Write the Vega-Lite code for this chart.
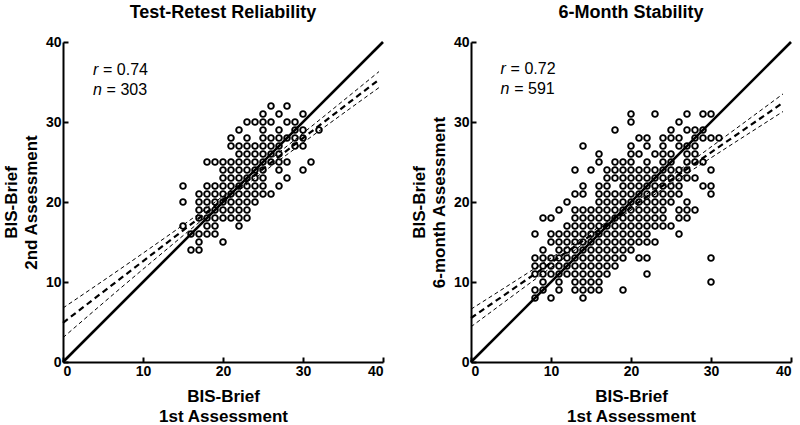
{
  "$schema": "https://vega.github.io/schema/vega-lite/v6.json",
  "padding": {"left": 2, "top": 4, "right": 5, "bottom": 0},
  "config": {
    "view": {"stroke": null},
    "font": "Liberation Sans",
    "concat": {"spacing": 21},
    "axis": {
      "grid": false,
      "domainColor": "black", "domainWidth": 2,
      "tickColor": "black", "tickWidth": 2, "tickSize": -5,
      "labelFont": "Liberation Sans", "labelFontWeight": "bold", "labelFontSize": 14, "labelColor": "black",
      "labelPadding": 7,
      "titleFont": "Liberation Sans", "titleFontWeight": "bold", "titleFontSize": 17, "titleColor": "black",
      "titleLineHeight": 20
    },
    "title": {"font": "Liberation Sans", "fontSize": 18, "fontWeight": "bold", "color": "black", "anchor": "middle", "frame": "group", "offset": 13}
  },
  "datasets": {
    "pts1": [
      {"x":26,"y":32},{"x":28,"y":32},
      {"x":25,"y":31},{"x":27,"y":31},{"x":30,"y":31},
      {"x":23,"y":30},{"x":24,"y":30},{"x":25,"y":30},{"x":26,"y":30},{"x":28,"y":30},{"x":29,"y":30},
      {"x":22,"y":29},{"x":25,"y":29},{"x":27,"y":29},{"x":29,"y":29},{"x":30,"y":29},{"x":32,"y":29},
      {"x":21,"y":28},{"x":23,"y":28},{"x":25,"y":28},{"x":26,"y":28},{"x":27,"y":28},{"x":28,"y":28},{"x":29,"y":28},{"x":30,"y":28},
      {"x":21,"y":27},{"x":22,"y":27},{"x":23,"y":27},{"x":24,"y":27},{"x":25,"y":27},{"x":26,"y":27},{"x":27,"y":27},{"x":29,"y":27},{"x":30,"y":27},
      {"x":22,"y":26},{"x":23,"y":26},{"x":24,"y":26},{"x":25,"y":26},{"x":26,"y":26},{"x":27,"y":26},
      {"x":18,"y":25},{"x":19,"y":25},{"x":20,"y":25},{"x":21,"y":25},{"x":22,"y":25},{"x":23,"y":25},{"x":24,"y":25},{"x":25,"y":25},{"x":26,"y":25},{"x":27,"y":25},{"x":28,"y":25},{"x":31,"y":25},
      {"x":20,"y":24},{"x":21,"y":24},{"x":22,"y":24},{"x":23,"y":24},{"x":24,"y":24},{"x":25,"y":24},{"x":27,"y":24},{"x":30,"y":24},
      {"x":20,"y":23},{"x":21,"y":23},{"x":22,"y":23},{"x":23,"y":23},{"x":24,"y":23},{"x":25,"y":23},{"x":28,"y":23},
      {"x":15,"y":22},{"x":18,"y":22},{"x":19,"y":22},{"x":20,"y":22},{"x":21,"y":22},{"x":22,"y":22},{"x":23,"y":22},{"x":24,"y":22},{"x":25,"y":22},{"x":27,"y":22},
      {"x":17,"y":21},{"x":18,"y":21},{"x":19,"y":21},{"x":20,"y":21},{"x":21,"y":21},{"x":22,"y":21},{"x":23,"y":21},{"x":24,"y":21},{"x":25,"y":21},{"x":26,"y":21},
      {"x":15,"y":20},{"x":17,"y":20},{"x":18,"y":20},{"x":19,"y":20},{"x":20,"y":20},{"x":21,"y":20},{"x":22,"y":20},{"x":23,"y":20},{"x":24,"y":20},
      {"x":17,"y":19},{"x":18,"y":19},{"x":19,"y":19},{"x":20,"y":19},{"x":21,"y":19},{"x":22,"y":19},{"x":23,"y":19},
      {"x":17,"y":18},{"x":18,"y":18},{"x":19,"y":18},{"x":20,"y":18},{"x":21,"y":18},{"x":22,"y":18},{"x":23,"y":18},
      {"x":15,"y":17},{"x":18,"y":17},{"x":19,"y":17},{"x":22,"y":17},
      {"x":16,"y":16},{"x":17,"y":16},{"x":18,"y":16},{"x":19,"y":16},
      {"x":17,"y":15},{"x":20,"y":15},
      {"x":16,"y":14},{"x":17,"y":14}
    ],
    "pts2": [
      {"x":20,"y":31},{"x":23,"y":31},{"x":27,"y":31},{"x":29,"y":31},{"x":30,"y":31},
      {"x":20,"y":30},{"x":26,"y":30},
      {"x":18,"y":29},{"x":25,"y":29},{"x":27,"y":29},{"x":28,"y":29},{"x":29,"y":29},
      {"x":21,"y":28},{"x":22,"y":28},{"x":24,"y":28},{"x":25,"y":28},{"x":26,"y":28},{"x":28,"y":28},{"x":29,"y":28},{"x":30,"y":28},{"x":31,"y":28},
      {"x":14,"y":27},{"x":20,"y":27},{"x":22,"y":27},{"x":24,"y":27},{"x":26,"y":27},{"x":27,"y":27},{"x":28,"y":27},
      {"x":16,"y":26},{"x":20,"y":26},{"x":21,"y":26},{"x":23,"y":26},{"x":24,"y":26},{"x":25,"y":26},{"x":27,"y":26},{"x":28,"y":26},
      {"x":16,"y":25},{"x":18,"y":25},{"x":19,"y":25},{"x":20,"y":25},{"x":22,"y":25},{"x":24,"y":25},{"x":25,"y":25},{"x":27,"y":25},{"x":28,"y":25},{"x":29,"y":25},
      {"x":13,"y":24},{"x":15,"y":24},{"x":17,"y":24},{"x":18,"y":24},{"x":19,"y":24},{"x":20,"y":24},{"x":21,"y":24},{"x":22,"y":24},{"x":23,"y":24},{"x":24,"y":24},{"x":25,"y":24},{"x":26,"y":24},{"x":27,"y":24},{"x":30,"y":24},
      {"x":17,"y":23},{"x":18,"y":23},{"x":19,"y":23},{"x":20,"y":23},{"x":21,"y":23},{"x":22,"y":23},{"x":23,"y":23},{"x":24,"y":23},{"x":25,"y":23},{"x":26,"y":23},{"x":27,"y":23},{"x":28,"y":23},
      {"x":14,"y":22},{"x":16,"y":22},{"x":17,"y":22},{"x":19,"y":22},{"x":20,"y":22},{"x":21,"y":22},{"x":22,"y":22},{"x":23,"y":22},{"x":24,"y":22},{"x":25,"y":22},{"x":26,"y":22},{"x":29,"y":22},{"x":30,"y":22},
      {"x":13,"y":21},{"x":14,"y":21},{"x":16,"y":21},{"x":17,"y":21},{"x":18,"y":21},{"x":19,"y":21},{"x":20,"y":21},{"x":21,"y":21},{"x":22,"y":21},{"x":23,"y":21},{"x":24,"y":21},{"x":25,"y":21},{"x":26,"y":21},{"x":30,"y":21},
      {"x":12,"y":20},{"x":16,"y":20},{"x":17,"y":20},{"x":18,"y":20},{"x":19,"y":20},{"x":20,"y":20},{"x":21,"y":20},{"x":22,"y":20},{"x":23,"y":20},{"x":24,"y":20},{"x":25,"y":20},{"x":27,"y":20},
      {"x":11,"y":19},{"x":13,"y":19},{"x":14,"y":19},{"x":15,"y":19},{"x":16,"y":19},{"x":17,"y":19},{"x":18,"y":19},{"x":19,"y":19},{"x":20,"y":19},{"x":21,"y":19},{"x":22,"y":19},{"x":23,"y":19},{"x":24,"y":19},{"x":26,"y":19},{"x":27,"y":19},{"x":28,"y":19},
      {"x":9,"y":18},{"x":10,"y":18},{"x":13,"y":18},{"x":14,"y":18},{"x":15,"y":18},{"x":16,"y":18},{"x":17,"y":18},{"x":18,"y":18},{"x":19,"y":18},{"x":20,"y":18},{"x":21,"y":18},{"x":22,"y":18},{"x":23,"y":18},{"x":24,"y":18},{"x":26,"y":18},{"x":27,"y":18},
      {"x":12,"y":17},{"x":13,"y":17},{"x":14,"y":17},{"x":15,"y":17},{"x":16,"y":17},{"x":17,"y":17},{"x":18,"y":17},{"x":19,"y":17},{"x":20,"y":17},{"x":21,"y":17},{"x":22,"y":17},{"x":23,"y":17},{"x":24,"y":17},{"x":25,"y":17},
      {"x":8,"y":16},{"x":10,"y":16},{"x":11,"y":16},{"x":12,"y":16},{"x":13,"y":16},{"x":14,"y":16},{"x":15,"y":16},{"x":16,"y":16},{"x":17,"y":16},{"x":18,"y":16},{"x":19,"y":16},{"x":20,"y":16},{"x":21,"y":16},{"x":22,"y":16},{"x":26,"y":16},
      {"x":10,"y":15},{"x":11,"y":15},{"x":12,"y":15},{"x":13,"y":15},{"x":14,"y":15},{"x":15,"y":15},{"x":16,"y":15},{"x":17,"y":15},{"x":18,"y":15},{"x":19,"y":15},{"x":20,"y":15},{"x":21,"y":15},{"x":22,"y":15},{"x":23,"y":15},
      {"x":9,"y":14},{"x":11,"y":14},{"x":12,"y":14},{"x":13,"y":14},{"x":14,"y":14},{"x":15,"y":14},{"x":16,"y":14},{"x":17,"y":14},{"x":18,"y":14},{"x":19,"y":14},{"x":20,"y":14},
      {"x":8,"y":13},{"x":9,"y":13},{"x":10,"y":13},{"x":11,"y":13},{"x":12,"y":13},{"x":13,"y":13},{"x":14,"y":13},{"x":15,"y":13},{"x":16,"y":13},{"x":17,"y":13},{"x":18,"y":13},{"x":19,"y":13},{"x":21,"y":13},{"x":22,"y":13},{"x":30,"y":13},
      {"x":8,"y":12},{"x":9,"y":12},{"x":10,"y":12},{"x":11,"y":12},{"x":12,"y":12},{"x":13,"y":12},{"x":14,"y":12},{"x":15,"y":12},{"x":16,"y":12},{"x":17,"y":12},{"x":18,"y":12},
      {"x":8,"y":11},{"x":9,"y":11},{"x":10,"y":11},{"x":11,"y":11},{"x":12,"y":11},{"x":13,"y":11},{"x":14,"y":11},{"x":15,"y":11},{"x":16,"y":11},{"x":17,"y":11},{"x":22,"y":11},
      {"x":9,"y":10},{"x":11,"y":10},{"x":13,"y":10},{"x":14,"y":10},{"x":15,"y":10},{"x":16,"y":10},{"x":30,"y":10},
      {"x":8,"y":9},{"x":9,"y":9},{"x":11,"y":9},{"x":13,"y":9},{"x":14,"y":9},{"x":15,"y":9},{"x":16,"y":9},{"x":19,"y":9},
      {"x":8,"y":8},{"x":10,"y":8},{"x":14,"y":8}
    ],
    "lines1": [
      {"kind":"identity","s":"i","x":0,"y":0},{"kind":"identity","s":"i","x":40,"y":40},
      {"kind":"fit","s":"f","x":0,"y":4.9},{"kind":"fit","s":"f","x":39.5,"y":35.3},
      {"kind":"ci","s":"u","x":0,"y":6.75},{"kind":"ci","s":"u","x":10,"y":13.6},{"kind":"ci","s":"u","x":22,"y":22.24},{"kind":"ci","s":"u","x":30,"y":28.6},{"kind":"ci","s":"u","x":39.5,"y":36.3},
      {"kind":"ci","s":"l","x":0,"y":3.05},{"kind":"ci","s":"l","x":10,"y":11.6},{"kind":"ci","s":"l","x":22,"y":21.44},{"kind":"ci","s":"l","x":30,"y":27.4},{"kind":"ci","s":"l","x":39.5,"y":34.3}
    ],
    "lines2": [
      {"kind":"identity","s":"i","x":0,"y":0},{"kind":"identity","s":"i","x":40,"y":40},
      {"kind":"fit","s":"f","x":0,"y":5.5},{"kind":"fit","s":"f","x":39,"y":32.41},
      {"kind":"ci","s":"u","x":0,"y":6.6},{"kind":"ci","s":"u","x":10,"y":13.0},{"kind":"ci","s":"u","x":18,"y":18.22},{"kind":"ci","s":"u","x":28,"y":25.42},{"kind":"ci","s":"u","x":39,"y":33.51},
      {"kind":"ci","s":"l","x":0,"y":4.4},{"kind":"ci","s":"l","x":10,"y":11.8},{"kind":"ci","s":"l","x":18,"y":17.62},{"kind":"ci","s":"l","x":28,"y":24.22},{"kind":"ci","s":"l","x":39,"y":31.31}
    ],
    "txt1": [
      {"x":3.75,"y":35.9,"t":"r","it":"italic"},{"x":5.0,"y":35.9,"t":"= 0.74","it":"normal"},
      {"x":3.75,"y":33.4,"t":"n","it":"italic"},{"x":5.45,"y":33.4,"t":"= 303","it":"normal"}
    ],
    "txt2": [
      {"x":3.7,"y":36.0,"t":"r","it":"italic"},{"x":4.95,"y":36.0,"t":"= 0.72","it":"normal"},
      {"x":3.7,"y":33.5,"t":"n","it":"italic"},{"x":5.4,"y":33.5,"t":"= 591","it":"normal"}
    ]
  },
  "hconcat": [
    {
      "width": 320, "height": 320,
      "title": {"text": "Test-Retest Reliability"},
      "layer": [
        {
          "data": {"name": "pts1"},
          "mark": {"type": "point", "shape": "circle", "filled": false, "color": "black", "size": 32, "strokeWidth": 1.9, "opacity": 1},
          "encoding": {
            "x": {"field": "x", "type": "quantitative", "scale": {"domain": [0, 40], "nice": false}, "axis": {"values": [0,10,20,30,40], "title": ["BIS-Brief", "1st Assessment"], "titlePadding": 10}},
            "y": {"field": "y", "type": "quantitative", "scale": {"domain": [0, 40], "nice": false}, "axis": {"values": [0,10,20,30,40], "title": ["BIS-Brief", "2nd Assessment"], "titlePadding": 5}}
          }
        },
        {
          "data": {"name": "lines1"}, "transform": [{"filter": "datum.kind == 'identity'"}],
          "mark": {"type": "line", "color": "black", "strokeWidth": 2.6},
          "encoding": {"x": {"field": "x", "type": "quantitative"}, "y": {"field": "y", "type": "quantitative"}}
        },
        {
          "data": {"name": "lines1"}, "transform": [{"filter": "datum.kind == 'fit'"}],
          "mark": {"type": "line", "color": "black", "strokeWidth": 2.2, "strokeDash": [6, 4]},
          "encoding": {"x": {"field": "x", "type": "quantitative"}, "y": {"field": "y", "type": "quantitative"}}
        },
        {
          "data": {"name": "lines1"}, "transform": [{"filter": "datum.kind == 'ci'"}],
          "mark": {"type": "line", "color": "black", "strokeWidth": 1, "strokeDash": [4, 3], "interpolate": "monotone"},
          "encoding": {"x": {"field": "x", "type": "quantitative"}, "y": {"field": "y", "type": "quantitative"}, "detail": {"field": "s"}}
        },
        {
          "data": {"name": "txt1"}, "transform": [{"filter": "datum.it == 'italic'"}],
          "mark": {"type": "text", "align": "left", "baseline": "alphabetic", "fontSize": 16, "font": "Liberation Sans", "fontStyle": "italic", "color": "black"},
          "encoding": {"x": {"field": "x", "type": "quantitative"}, "y": {"field": "y", "type": "quantitative"}, "text": {"field": "t"}}
        },
        {
          "data": {"name": "txt1"}, "transform": [{"filter": "datum.it == 'normal'"}],
          "mark": {"type": "text", "align": "left", "baseline": "alphabetic", "fontSize": 16, "font": "Liberation Sans", "color": "black"},
          "encoding": {"x": {"field": "x", "type": "quantitative"}, "y": {"field": "y", "type": "quantitative"}, "text": {"field": "t"}}
        }
      ]
    },
    {
      "width": 320, "height": 320,
      "title": {"text": "6-Month Stability"},
      "layer": [
        {
          "data": {"name": "pts2"},
          "mark": {"type": "point", "shape": "circle", "filled": false, "color": "black", "size": 32, "strokeWidth": 1.9, "opacity": 1},
          "encoding": {
            "x": {"field": "x", "type": "quantitative", "scale": {"domain": [0, 40], "nice": false}, "axis": {"values": [0,10,20,30,40], "title": ["BIS-Brief", "1st Assessment"], "titlePadding": 10}},
            "y": {"field": "y", "type": "quantitative", "scale": {"domain": [0, 40], "nice": false}, "axis": {"values": [0,10,20,30,40], "title": ["BIS-Brief", "6-month Assessment"], "titlePadding": 5}}
          }
        },
        {
          "data": {"name": "lines2"}, "transform": [{"filter": "datum.kind == 'identity'"}],
          "mark": {"type": "line", "color": "black", "strokeWidth": 2.6},
          "encoding": {"x": {"field": "x", "type": "quantitative"}, "y": {"field": "y", "type": "quantitative"}}
        },
        {
          "data": {"name": "lines2"}, "transform": [{"filter": "datum.kind == 'fit'"}],
          "mark": {"type": "line", "color": "black", "strokeWidth": 2.2, "strokeDash": [6, 4]},
          "encoding": {"x": {"field": "x", "type": "quantitative"}, "y": {"field": "y", "type": "quantitative"}}
        },
        {
          "data": {"name": "lines2"}, "transform": [{"filter": "datum.kind == 'ci'"}],
          "mark": {"type": "line", "color": "black", "strokeWidth": 1, "strokeDash": [4, 3], "interpolate": "monotone"},
          "encoding": {"x": {"field": "x", "type": "quantitative"}, "y": {"field": "y", "type": "quantitative"}, "detail": {"field": "s"}}
        },
        {
          "data": {"name": "txt2"}, "transform": [{"filter": "datum.it == 'italic'"}],
          "mark": {"type": "text", "align": "left", "baseline": "alphabetic", "fontSize": 16, "font": "Liberation Sans", "fontStyle": "italic", "color": "black"},
          "encoding": {"x": {"field": "x", "type": "quantitative"}, "y": {"field": "y", "type": "quantitative"}, "text": {"field": "t"}}
        },
        {
          "data": {"name": "txt2"}, "transform": [{"filter": "datum.it == 'normal'"}],
          "mark": {"type": "text", "align": "left", "baseline": "alphabetic", "fontSize": 16, "font": "Liberation Sans", "color": "black"},
          "encoding": {"x": {"field": "x", "type": "quantitative"}, "y": {"field": "y", "type": "quantitative"}, "text": {"field": "t"}}
        }
      ]
    }
  ]
}
